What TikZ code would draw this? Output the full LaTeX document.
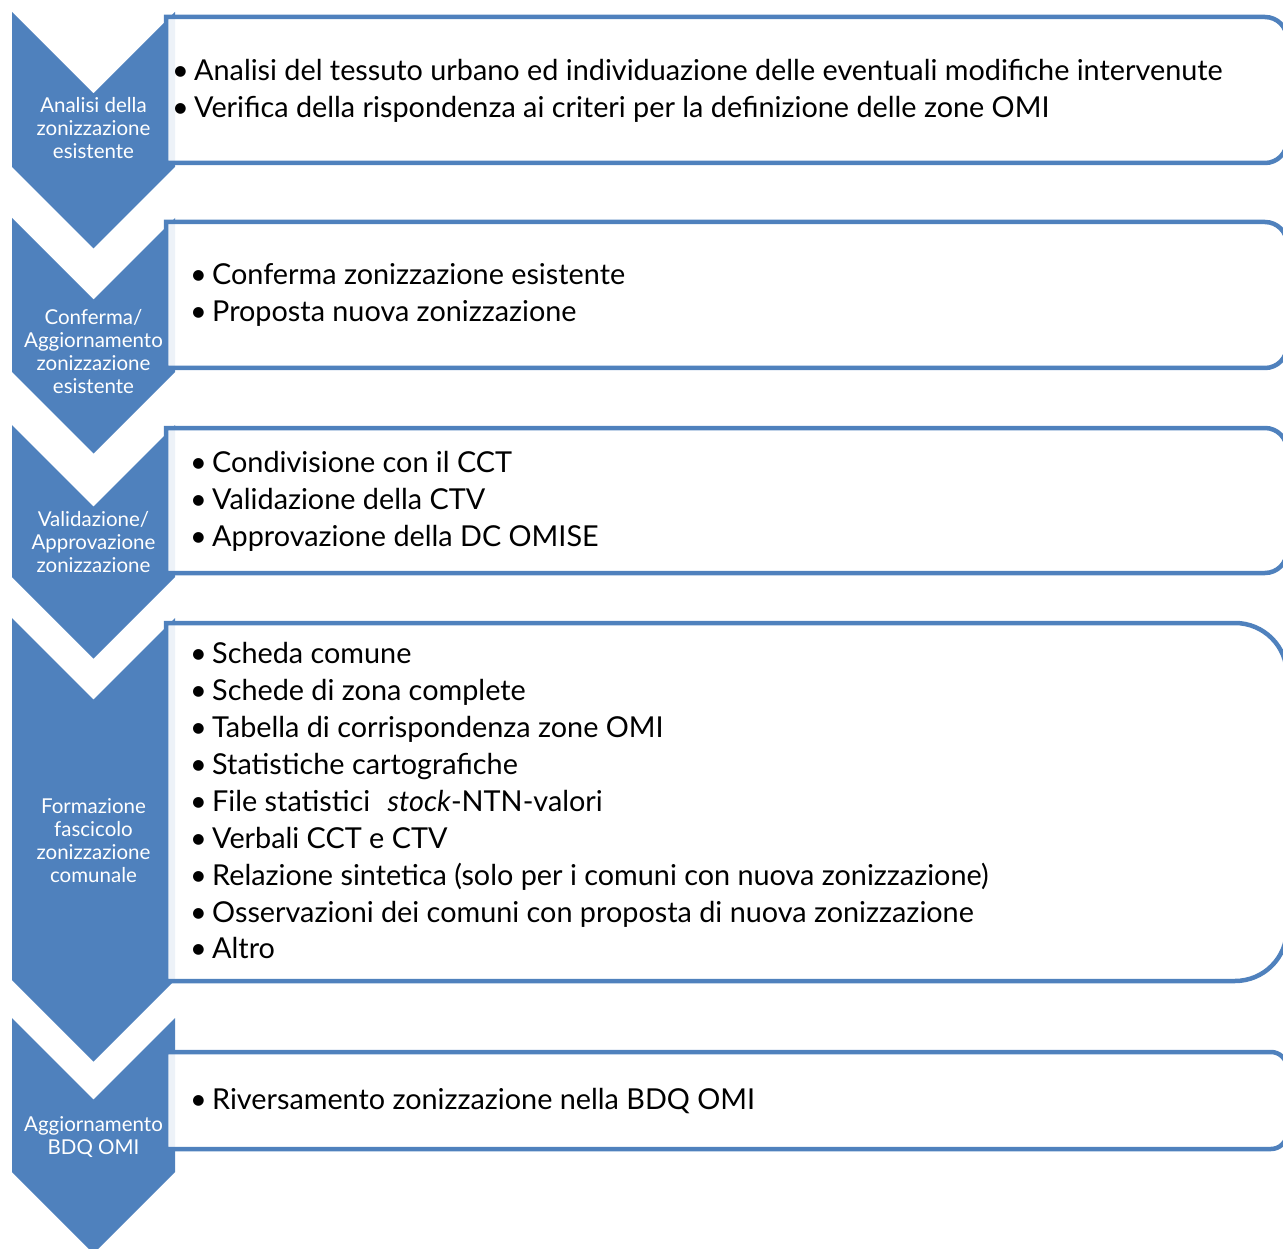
\documentclass[tikz,border=0pt]{standalone}
\usepackage{fontspec}
\setmainfont{Lato}
\definecolor{acc}{HTML}{4F81BD}
\newcommand\bitem[1]{\makebox[22pt][l]{•}#1}
\newcommand\chevshape[2]{\fill[chev] (12,#1) -- (93.5,#1+81.5) -- (175,#1) -- (175,#2) -- (93.5,#2+81.5) -- (12,#2) -- cycle;}
\newcommand\ibox[3]{\draw[ibox] (166,#1) -- (1287-#3,#1) arc[start angle=90,end angle=0,radius=#3pt] -- (1287,#2-#3) arc[start angle=0,end angle=-90,radius=#3pt] -- (166,#2) -- cycle;}
\begin{document}
\begin{tikzpicture}[x=1pt,y=-1pt,
  chev/.style={fill=acc},
  ibox/.style={draw=acc, line width=4.5pt, fill=white, fill opacity=0.9, draw opacity=1},
  ctext/.style={text=white, align=center, font=\fontsize{20.5}{23}\selectfont, inner sep=0pt, anchor=base},
  btext/.style={text=black, anchor=base west, inner sep=0pt, font=\fontsize{28.8}{37}\selectfont},
]
\useasboundingbox (0,0) rectangle (1283,1249);
\clip (0,0) rectangle (1283,1249);
% chevrons
\chevshape{12}{167}
\chevshape{218}{372}
\chevshape{425}{577}
\chevshape{618}{980}
\chevshape{1018}{1172}
% boxes
\ibox{17}{163}{22}
\ibox{222}{368}{22}
\ibox{428}{573}{22}
\ibox{623}{981}{52}
\ibox{1052}{1149}{16}
% chevron texts (anchor = baseline of last line)
\node[ctext] (c1) at (93.5,159) {Analisi della\\zonizzazione\\esistente};
\node[ctext] (c2) at (93.5,393) {Conferma/\\Aggiornamento\\zonizzazione\\esistente};
\node[ctext] (c3) at (93.5,572) {Validazione/\\Approvazione\\zonizzazione};
\node[ctext] (c4) at (93.5,882) {Formazione\\fascicolo\\zonizzazione\\comunale};
\node[ctext] (c5) at (93.5,1154) {Aggiornamento\\BDQ OMI};
% box texts
\node[btext] (a1) at (172,81) {\bitem{Analisi del tessuto urbano ed individuazione delle eventuali modifiche intervenute}};
\node[btext] (a2) at (172,118) {\bitem{Verifica della rispondenza ai criteri per la definizione delle zone OMI}};
\node[btext] (b1) at (190,285) {\bitem{Conferma zonizzazione esistente}};
\node[btext] (b2) at (190,322) {\bitem{Proposta nuova zonizzazione}};
\node[btext] (d1) at (190,472) {\bitem{Condivisione con il CCT}};
\node[btext] (d2) at (190,509) {\bitem{Validazione della CTV}};
\node[btext] (d3) at (190,546) {\bitem{Approvazione della DC OMISE}};
\node[btext] (e1) at (190,663) {\bitem{Scheda comune}};
\node[btext] (e2) at (190,700) {\bitem{Schede di zona complete}};
\node[btext] (e3) at (190,737) {\bitem{Tabella di corrispondenza zone OMI}};
\node[btext] (e4) at (190,774) {\bitem{Statistiche cartografiche}};
\node[btext] (e5) at (190,811) {\bitem{File statistici \hspace{0.35em}\textit{stock}-NTN-valori}};
\node[btext] (e6) at (190,848) {\bitem{Verbali CCT e CTV}};
\node[btext] (e7) at (190,885) {\bitem{Relazione sintetica (solo per i comuni con nuova zonizzazione)}};
\node[btext] (e8) at (190,922) {\bitem{Osservazioni dei comuni con proposta di nuova zonizzazione}};
\node[btext] (e9) at (190,958) {\bitem{Altro}};
\node[btext] (f1) at (190,1109) {\bitem{Riversamento zonizzazione nella BDQ OMI}};
\end{tikzpicture}
\end{document}
